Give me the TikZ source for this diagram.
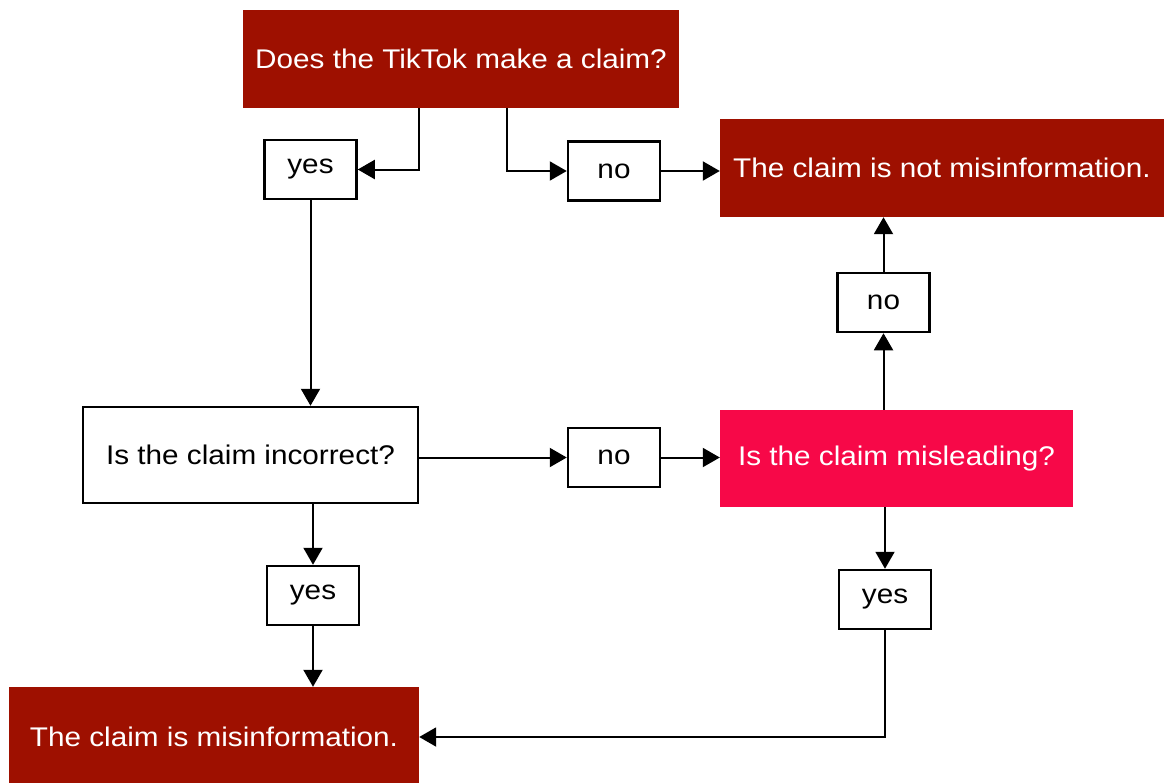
\documentclass[tikz,border=0pt]{standalone}
\usepackage{fontspec}
\setmainfont[FakeStretch=1.1]{Liberation Sans}
\usepackage{tikz}
\usetikzlibrary{
	calc,
	arrows.meta,
	positioning,
}
\definecolor{tiktokred}{RGB}{158,16,0}
\definecolor{tiktokpink}{RGB}{247,8,72}

\begin{document}
\begin{tikzpicture}[
                    x=1pt, y=-1pt,
                    font=\fontsize{27}{32}\selectfont,
                    endbox/.style={fill=tiktokred, text=white, inner sep=0pt},
                    askbox/.style={draw, line width=2.5pt, inner sep=0pt},
                    answer/.style={draw, line width=2.5pt, inner sep=0pt,
                        minimum width=92pt, minimum height=59pt},
                    flow/.style={line width=2pt, -{Triangle[length=17pt,width=19pt]}},
                ]
                \useasboundingbox (0,0) rectangle (1164,782);
                % question and result boxes
                \node[endbox, minimum width=436pt, minimum height=98pt] (claim) at (461,59) {Does the TikTok make a claim?};
                \node[endbox, minimum width=444pt, minimum height=98pt] (notmis) at (942,168) {The claim is not misinformation.};
                \node[askbox, minimum width=335pt, minimum height=96pt] (incorrect) at (250.5,455) {Is the claim incorrect?};
                \node[endbox, fill=tiktokpink, minimum width=353pt, minimum height=97pt] (misleading) at (896.5,458.5) {Is the claim misleading?};
                \node[endbox, minimum width=410pt, minimum height=100pt] (mis) at (214,737) {The claim is misinformation.};
                % yes / no labels
                \node[answer] (yesA) at (310.5,169.5) {yes};
                \node[answer] (noA) at (614,171) {no};
                \node[answer] (noB) at (883.5,302.5) {no};
                \node[answer] (noC) at (614,457.5) {no};
                \node[answer] (yesC) at (313,595.5) {yes};
                \node[answer] (yesD) at (885,599.5) {yes};
                \path[flow]
                ([xshift=-42pt]claim.south) edge[to path={|- (\tikztotarget)}] (yesA.east)
                ([xshift=46pt]claim.south) edge[to path={|- (\tikztotarget)}] (noA.west)
                (noA.east) edge (noA.east -| notmis.west)
                (yesA.south) edge (yesA.south |- incorrect.north)
                (incorrect.east |- noC) edge (noC.west)
                (noC.east) edge (noC.east -| misleading.west)
                (incorrect.south -| yesC) edge (yesC.north)
                (yesC.south) edge (yesC.south |- mis.north)
                (misleading.south -| yesD) edge (yesD.north)
                (misleading.north -| noB) edge (noB.south)
                (noB.north) edge (noB.north |- notmis.south)
                (yesD.south) edge[to path={|- (\tikztotarget)}] (mis.east);
\end{tikzpicture}
\end{document}
